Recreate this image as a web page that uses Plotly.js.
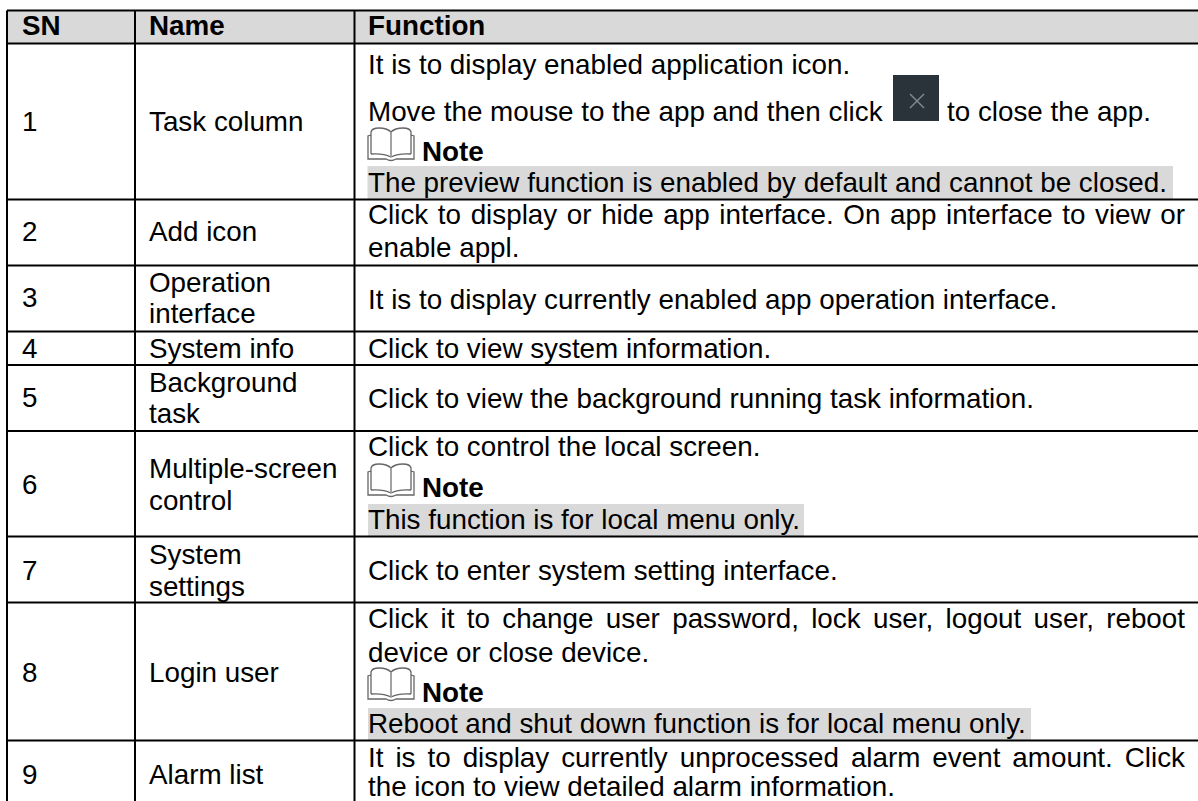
<!DOCTYPE html>
<html><head><meta charset="utf-8">
<script src="https://cdn.plot.ly/plotly-3.0.1.min.js"></script>
<style>html,body{margin:0;padding:0;background:#fff}</style>
</head><body><div id="chart" style="width:1198px;height:801px"></div>
<script>
// ---- table content ----
const headers = ["SN", "Name", "Function"];
const snValues = ["1","2","3","4","5","6","7","8","9"];
const nameLines = [
  ["Task column"], ["Add icon"], ["Operation","interface"], ["System info"],
  ["Background","task"], ["Multiple-screen","control"], ["System","settings"],
  ["Login user"], ["Alarm list"]
];
const functionLines = [
  ["It is to display enabled application icon.", "Move the mouse to the app and then click", "to close the app.", "Note", "The preview function is enabled by default and cannot be closed."],
  ["Click to display or hide app interface. On app interface to view or", "enable appl."],
  ["It is to display currently enabled app operation interface."],
  ["Click to view system information."],
  ["Click to view the background running task information."],
  ["Click to control the local screen.", "Note", "This function is for local menu only."],
  ["Click to enter system setting interface."],
  ["Click it to change user password, lock user, logout user, reboot", "device or close device.", "Note", "Reboot and shut down function is for local menu only."],
  ["It is to display currently unprocessed alarm event amount. Click", "the icon to view detailed alarm information."]
];
// ---- page geometry (axes are in page pixels) ----
const colX = [7, 135, 354.5];
const textX = [22, 149, 368];
const rowY = [10.5, 43.5, 199.5, 265.5, 331.5, 365, 431, 536.5, 602.5, 740.5, 810];
const headerY = 28;
const snY = [124, 234, 300, 351, 400, 487, 573, 675, 777];
const nameY = [[124],[234],[285,316],[351],[385,416],[471,503],[557,589],[675],[777]];
const funcY = [[67,114,114,154,185],[217,250],[302],[351],[401],[449,490,522],[573],[621,655,695,726],[760,789.5]];
const funcX = [[368,368,947,422,368],[368,368],[368],[368],[368],[368,422,368],[368],[368,368,422,368],[368,368]];
const justified = [[0,0,0,0,0],[1,0],[0],[0],[0],[0,0,0],[0],[1,0,0,0],[1,0]];
const justifyEnd = 1185;
const highlights = [[367.5,1173,166,199],[368,804,504,536],[368,1031,708,740]];
const books = [[367,127],[367,463],[367,667]];
const closeBox = [893,939,75,121];
const closeMark = [917,101,7];
const FONT = "Liberation Sans, Arial, sans-serif", SIZE = 27.8;

const ctx = document.createElement('canvas').getContext('2d');
ctx.font = SIZE + "px 'Liberation Sans'";
const body = {x:[],y:[],t:[]}, bold = {x:[],y:[],t:[]};
function put(s,x,y,t){ s.x.push(x); s.y.push(y); s.t.push(t); }
headers.forEach((h,i)=>put(bold,textX[i],headerY,h));
snValues.forEach((s,i)=>put(body,textX[0],snY[i],s));
nameLines.forEach((ls,i)=>ls.forEach((l,j)=>put(body,textX[1],nameY[i][j],l)));
functionLines.forEach((ls,i)=>ls.forEach((l,j)=>{
  const y = funcY[i][j], x = funcX[i][j];
  if (l==="Note") { put(bold,x,y,l); return; }
  if (justified[i][j]) {
    const words = l.split(" ");
    const total = words.reduce((a,w)=>a+ctx.measureText(w).width,0);
    const gap = (justifyEnd-x-total)/(words.length-1);
    let cx = x;
    words.forEach(w=>{ put(body,cx,y,w); cx += ctx.measureText(w).width+gap; });
  } else put(body,x,y,l);
}));
const traceOf = (s,weight)=>({type:'scatter',mode:'text',x:s.x,y:s.y,text:s.t,textposition:'middle right',
  textfont:{family:FONT,size:SIZE,color:'#000',weight:weight},hoverinfo:'skip',showlegend:false,cliponaxis:false});
const shapes = [];
const line = (x0,x1,y0,y1)=>shapes.push({type:'line',xref:'x',yref:'y',x0,x1,y0,y1,line:{color:'#000',width:2},layer:'above'});
shapes.push({type:'rect',xref:'x',yref:'y',x0:colX[0],x1:1198,y0:rowY[0],y1:rowY[1],fillcolor:'#d9d9d9',line:{width:0},layer:'below'});
highlights.forEach(h=>shapes.push({type:'rect',xref:'x',yref:'y',x0:h[0],x1:h[1],y0:h[2],y1:h[3],fillcolor:'#d9d9d9',line:{width:0},layer:'below'}));
rowY.slice(0,-1).forEach(y=>line(colX[0],1198,y,y));
colX.forEach(x=>line(x,x,rowY[0],801));
// close button
shapes.push({type:'rect',xref:'x',yref:'y',x0:closeBox[0],x1:closeBox[1],y0:closeBox[2],y1:closeBox[3],fillcolor:'#2a323a',line:{width:0},layer:'above'});
const [mx,my,mr]=closeMark;
[[-mr,-mr,mr,mr],[-mr,mr,mr,-mr]].forEach(d=>shapes.push({type:'line',xref:'x',yref:'y',x0:mx+d[0],y0:my+d[1],x1:mx+d[2],y1:my+d[3],line:{color:'#7f8a94',width:1.4},layer:'above'}));
// book icon
books.forEach(([x,y])=>{
  const p=(a,b)=>(x+a)+','+(y+b);
  const pages='M'+p(4,27)+' L'+p(4,5)+' Q'+p(5,1)+' '+p(12,1)+' Q'+p(20,1)+' '+p(24,5)+' Q'+p(28,1)+' '+p(36,1)+' Q'+p(43,1)+' '+p(44,5)+' L'+p(44,27);
  const cover='M'+p(4,8)+' L'+p(1,9)+' L'+p(1,32)+' L'+p(19,32)+' Q'+p(24,35)+' '+p(29,32)+' L'+p(47,32)+' L'+p(47,9)+' L'+p(44,8);
  const inner='M'+p(4,27)+' Q'+p(16,26)+' '+p(24,30)+' Q'+p(32,26)+' '+p(44,27);
  const spine='M'+p(24,5)+' L'+p(24,30);
  shapes.push({type:'path',xref:'x',yref:'y',path:pages+' '+inner+' '+cover,line:{color:'#666',width:1.3},layer:'above'});
  shapes.push({type:'path',xref:'x',yref:'y',path:spine,line:{color:'#999',width:1.8},layer:'above'});
});
Plotly.newPlot('chart',[traceOf(body,'normal'),traceOf(bold,'bold')],{
  width:1198,height:801,margin:{l:0,r:0,t:0,b:0},paper_bgcolor:'#fff',plot_bgcolor:'#fff',showlegend:false,
  xaxis:{range:[0,1198],visible:false,fixedrange:true},
  yaxis:{range:[801,0],visible:false,fixedrange:true},shapes
},{displayModeBar:false,staticPlot:true});
</script></body></html>
